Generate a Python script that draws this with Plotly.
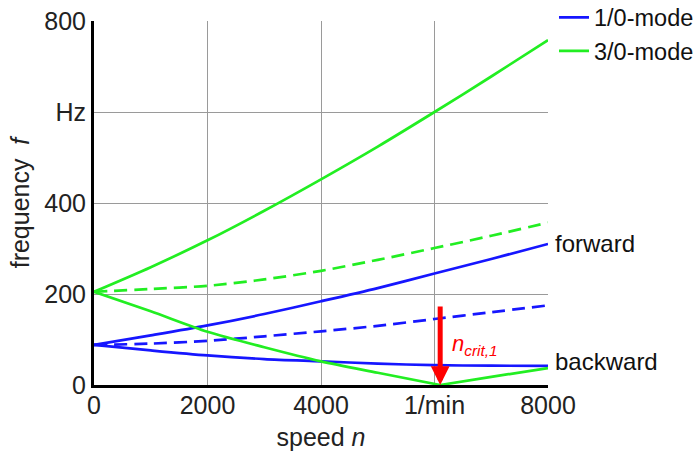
import plotly.graph_objects as go

# ---- data ----
speed = [0, 1000, 2000, 3000, 4000, 5000, 6000, 7000, 8000]
f10_forward = [88, 109, 131, 156, 184, 213, 245, 277, 310]
f10_backward = [88, 76, 65, 57, 52, 47, 43.5, 42.5, 42]
f10_static = [88, 91, 97, 107, 118, 130, 145, 160, 175]
f30_forward = [205, 259, 318, 383, 452, 524, 600, 678, 758]
f30_static = [205, 211, 218, 232, 251, 275, 301, 328, 357]
speed_30b = [0, 1000, 2000, 3000, 4000, 5000, 6100, 7000, 8000]
f30_backward = [205, 162, 117, 83, 52, 27, 0, 18, 37]
n_crit = 6100
arrow_top = 176

x_tickvals = [0, 2000, 4000, 6000, 8000]
x_ticktext = ["0", "2000", "4000", "1/min", "8000"]
y_tickvals = [0, 200, 400, 600, 800]
y_ticktext = ["0", "200", "400", "Hz", "800"]

BLUE = "#1616ff"
GREEN = "#22ee22"
LW = 2.7
FONT = "Liberation Sans, Arial, sans-serif"

fig = go.Figure()

def add(x, y, color, dash="solid", name=None, legend=False):
    fig.add_trace(go.Scatter(
        x=x, y=y, mode="lines", name=name, showlegend=legend,
        line=dict(color=color, width=LW, dash=dash, shape="spline", smoothing=0.8),
        hoverinfo="skip"))

add(speed, f10_forward, BLUE, name="1/0-mode", legend=True)
add(speed, f10_backward, BLUE)
add(speed, f10_static, BLUE, dash="13px,7px")
add(speed, f30_forward, GREEN, name="3/0-mode", legend=True)
add(speed, f30_static, GREEN, dash="13px,7px")
add(speed_30b[:7], f30_backward[:7], GREEN)
add(speed_30b[6:], f30_backward[6:], GREEN)

fig.add_annotation(x=n_crit, y=0, ax=n_crit, ay=arrow_top, axref="x", ayref="y",
                   xref="x", yref="y", showarrow=True, arrowhead=2, arrowsize=0.75,
                   arrowwidth=5, arrowcolor="#ff0000", text="")
fig.add_annotation(x=6714, y=88, xref="x", yref="y", showarrow=False,
                   text="<i>n</i><sub><i>crit,1</i></sub>",
                   font=dict(family=FONT, size=22, color="#ff0000"))
fig.add_annotation(x=8000, y=312, xref="x", yref="y", showarrow=False, xanchor="left",
                   xshift=5, text="forward", font=dict(family=FONT, size=24, color="#111"))
fig.add_annotation(x=8000, y=51, xref="x", yref="y", showarrow=False, xanchor="left",
                   xshift=5, text="backward", font=dict(family=FONT, size=24, color="#111"))

fig.update_layout(
    width=697, height=454,
    margin=dict(l=94, r=149, t=21, b=69, autoexpand=False),
    paper_bgcolor="white", plot_bgcolor="white",
    font=dict(family=FONT, size=24, color="#222"),
    legend=dict(x=1.0132, y=1.07, xanchor="left", yanchor="top",
                font=dict(family=FONT, size=23.5, color="#111"),
                bgcolor="rgba(0,0,0,0)", itemwidth=30),
    xaxis=dict(range=[0, 8000], tickvals=x_tickvals, ticktext=x_ticktext,
               showgrid=True, gridcolor="#9a9a9a", gridwidth=1,
               showline=True, linecolor="black", linewidth=3,
               ticks="", ticklabelstandoff=-4, automargin=False,
               tickfont=dict(size=25, color="#222"), zeroline=False,
               title=dict(text="speed <i>n</i>", standoff=11,
                          font=dict(size=25, color="#222"))),
    yaxis=dict(range=[0, 800], tickvals=y_tickvals, ticktext=y_ticktext,
               showgrid=True, gridcolor="#9a9a9a", gridwidth=1,
               showline=True, linecolor="black", linewidth=3,
               ticks="", automargin=False,
               tickfont=dict(size=25, color="#222"), zeroline=False,
               title=dict(text="frequency  <i>f</i>", standoff=8,
                          font=dict(size=25, color="#222"))),
)

fig.write_html("out.html")
